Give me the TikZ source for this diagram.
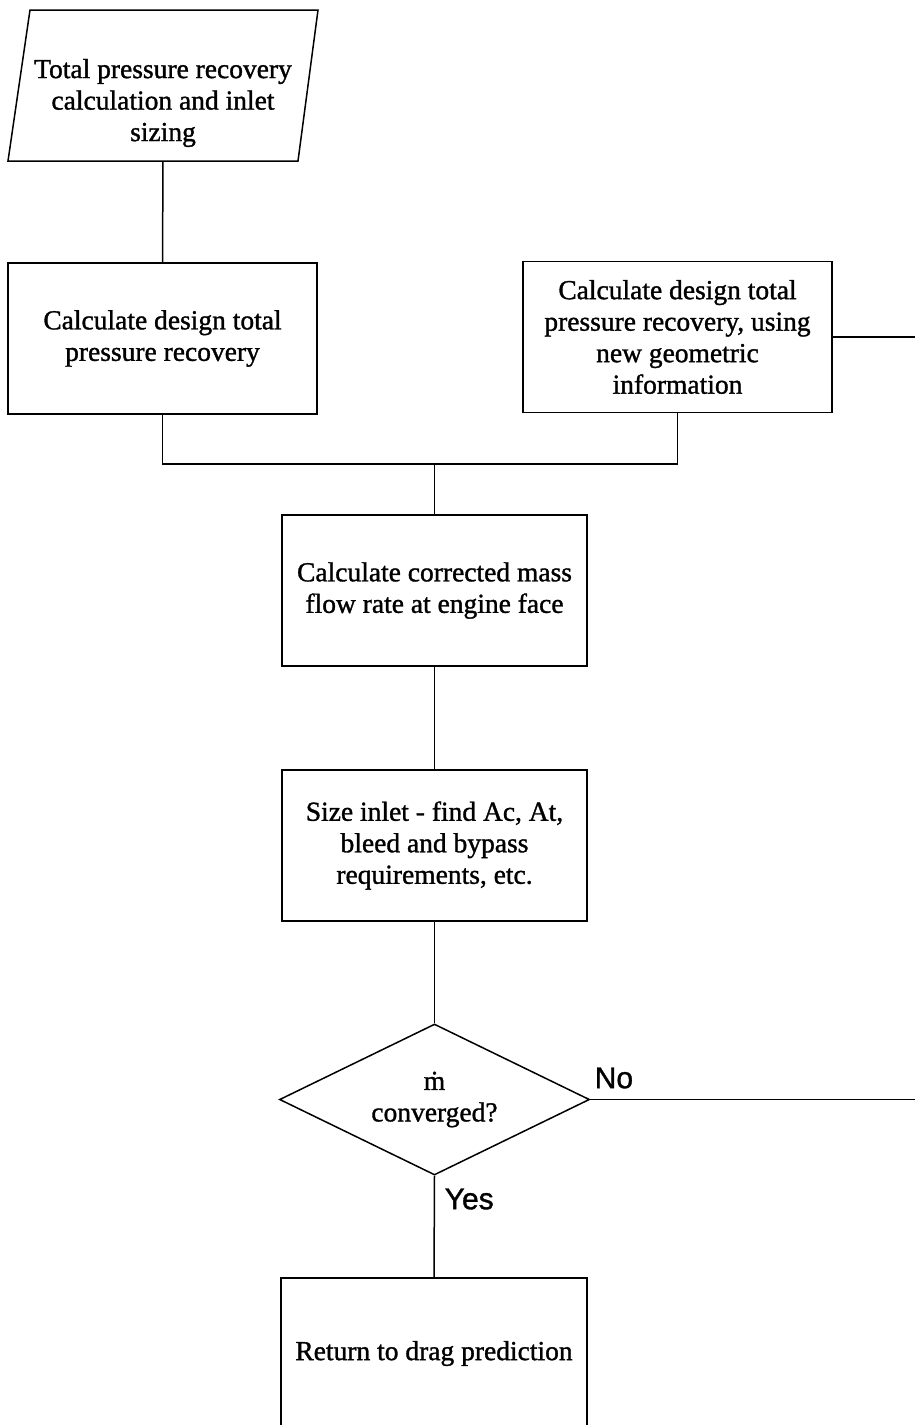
\documentclass[tikz,border=0pt]{standalone}
\usepackage{fontspec}
\setmainfont{Liberation Serif}[FakeBold=1.2]
\newfontfamily\labelfont{Liberation Sans}[FakeBold=1.2]
\usetikzlibrary{shapes.geometric}
\begin{document}
\begin{tikzpicture}[x=1pt,y=-1pt,
  line width=1.5pt,
  bodytext/.style={align=center, inner sep=0pt, font=\fontsize{27.5}{31.5}\selectfont},
  procbox/.style={bodytext, draw, rectangle, minimum width=#1, minimum height=151pt},
  procbox/.default=309pt,
  decision/.style={bodytext, draw, diamond, shape aspect=2, minimum width=310pt, minimum height=151pt},
  branchlabel/.style={inner sep=0pt, font=\labelfont\fontsize{30}{32}\selectfont},
  link/.style={draw, line width=1.5pt}
]
\clip (0,0) rectangle (915,1425);
\fill[white] (0,0) rectangle (915,1425);

% input / output block
\draw[line width=1.5pt] (30,10) -- (318,10) -- (298,161) -- (8,161) -- cycle;
\node[bodytext] (input) at (163,103) {Total pressure recovery\\calculation and inlet\\sizing};
\coordinate (inputS) at (163,161);

% process blocks
\node[procbox] (design) at (162.5,338.5) {Calculate design total\\pressure recovery};
\node[procbox] (redesign) at (677.5,337) {Calculate design total\\pressure recovery, using\\new geometric\\information};
\node[procbox=305pt] (massflow) at (434.5,590.5) {Calculate corrected mass\\flow rate at engine face};
\node[procbox=305pt] (sizing) at (434.5,845.5) {Size inlet - find Ac, At,\\bleed and bypass\\requirements, etc.};
\node[decision] (check) at (434.5,1099.5) {\.{m}\\converged?};
\node[procbox=306pt] (ret) at (434,1353.5) {Return to drag prediction};

% junction and off-page ends of the iteration loop
\coordinate (join) at (434.5,464);
\coordinate (loopTop) at (915,337);
\coordinate (loopBottom) at (915,1099.5);

% connectors
\draw[link] (inputS) -- (design.north);
\draw[link] (design.south) |- (join) -| (redesign.south);
\draw[link] (join) -- (massflow.north);
\draw[link] (massflow.south) -- (sizing.north);
\draw[link] (sizing.south) -- (check.north);
\draw[link] (check.south) -- (ret.north);
\draw[link] (check.east) -- (loopBottom);
\draw[link] (redesign.east) -- (loopTop);

% branch labels
\node[branchlabel, anchor=west] (nolabel) at (594,1078) {No};
\node[branchlabel, anchor=west] (yeslabel) at (444,1199) {Yes};
\end{tikzpicture}
\end{document}
